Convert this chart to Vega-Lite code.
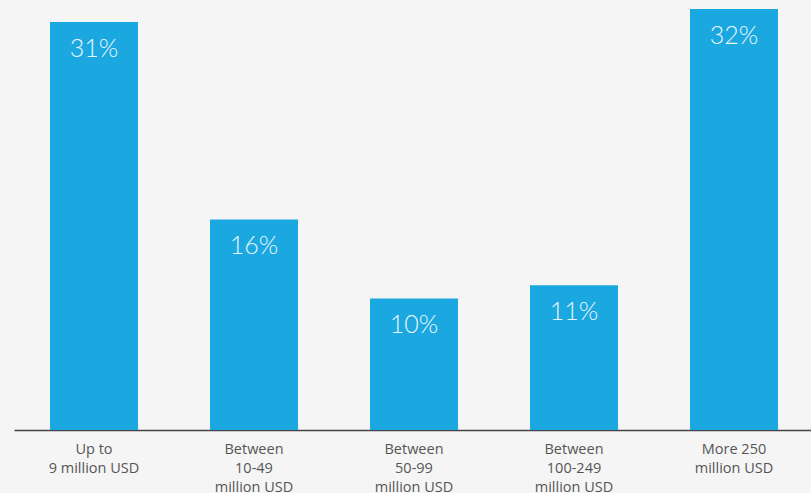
{
  "$schema": "https://vega.github.io/schema/vega-lite/v6.json",
  "width": 800,
  "height": 430,
  "padding": {"left": 14, "top": 0, "right": 0, "bottom": 0},
  "background": "#f5f5f5",
  "config": {"view": {"stroke": null}},
  "data": {
    "values": [
      {"category": "Up to|9 million USD", "share": 31},
      {"category": "Between|10-49|million USD", "share": 16},
      {"category": "Between|50-99|million USD", "share": 10},
      {"category": "Between|100-249|million USD", "share": 11},
      {"category": "More 250|million USD", "share": 32}
    ]
  },
  "encoding": {
    "x": {
      "field": "category",
      "type": "nominal",
      "sort": null,
      "scale": {"paddingInner": 0.45, "paddingOuter": 0.225},
      "axis": {
        "title": null,
        "labelAngle": 0,
        "labelExpr": "split(datum.value, '|')",
        "labelFont": "Open Sans",
        "labelFontSize": 14.5,
        "labelColor": "#555555",
        "labelPadding": 12,
        "labelLineHeight": 19,
        "ticks": false,
        "domainColor": "#444444",
        "domainWidth": 1.5
      }
    },
    "y": {
      "field": "share",
      "type": "quantitative",
      "scale": {"domain": [0, 32.68], "nice": false, "zero": true},
      "axis": null
    }
  },
  "layer": [
    {"mark": {"type": "bar", "color": "#1ba8e0"}},
    {
      "mark": {
        "type": "text",
        "baseline": "alphabetic",
        "dy": 35,
        "font": "Lato",
        "fontWeight": 300,
        "fontSize": 25,
        "color": "#eaf6fc",
        "text": {"expr": "datum.share + '%'"}
      }
    }
  ]
}
